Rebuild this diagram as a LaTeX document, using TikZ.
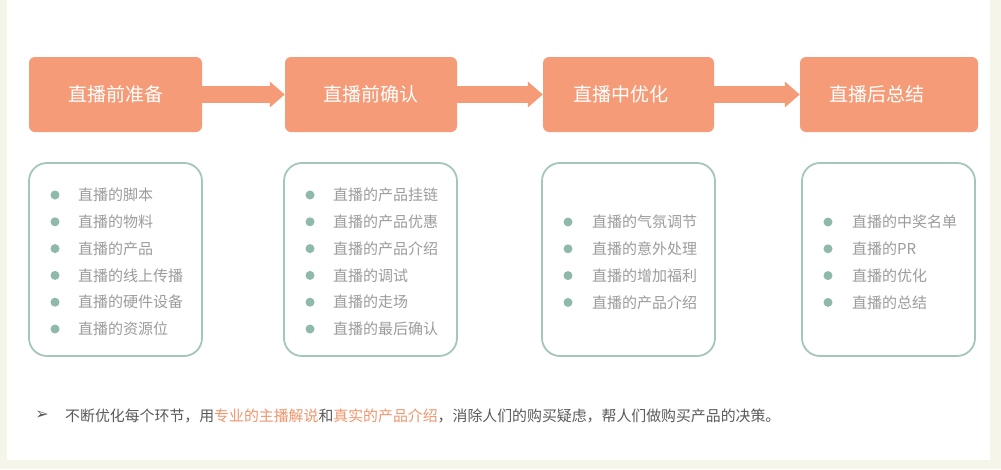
\documentclass[tikz,border=0pt]{standalone}
\usepackage{fontspec}
\setmainfont{Noto Sans CJK SC}
\newfontfamily\symfont{DejaVu Sans}
\usetikzlibrary{arrows.meta}
\definecolor{cream}{HTML}{F6F5EA}
\definecolor{orangebox}{HTML}{F59B78}
\definecolor{greenline}{HTML}{A5C6BA}
\definecolor{bulletc}{HTML}{8FBAA9}
\definecolor{itemtext}{HTML}{9C9C9C}
\definecolor{foottext}{HTML}{5A5A5A}
\definecolor{highlight}{HTML}{F0956C}
\tikzset{
  stagebox/.style={fill=orangebox, rounded corners=6pt, minimum height=75pt, inner sep=0pt,
    text=white, font=\fontsize{19pt}{22pt}\selectfont},
  listbox/.style={draw=greenline, line width=1.8pt, rounded corners=18pt, minimum height=193pt, inner sep=0pt},
  flowarrow/.style={draw=orangebox, line width=17pt, -{Triangle[length=15pt,width=25pt]}},
  bulletdot/.style={circle, fill=bulletc, minimum size=9pt, inner sep=0pt},
  itemlabel/.style={anchor=west, inner sep=0pt, text=itemtext, font=\fontsize{15pt}{18pt}\selectfont},
}
\begin{document}
\begin{tikzpicture}[x=1pt,y=-1pt]
\useasboundingbox (0,0) rectangle (1001,469);
\fill[cream] (0,0) rectangle (1001,469);
\fill[white] (7,0) rectangle (990,460);
% stage boxes
\node[stagebox, minimum width=173pt] (s1) at (115.5,94.5) {直播前准备};
\node[stagebox, minimum width=172pt] (s2) at (371,94.5) {直播前确认};
\node[stagebox, minimum width=171pt] (s3) at (628.5,94.5) {\hspace*{-16pt}直播中优化};
\node[stagebox, minimum width=178pt] (s4) at (889,94.5) {\hspace*{-24pt}直播后总结};
% arrows
\draw[flowarrow] (s1.east) -- (s2.west);
\draw[flowarrow] (s2.east) -- (s3.west);
\draw[flowarrow] (s3.east) -- (s4.west);
% list boxes
\node[listbox, minimum width=173pt] (l1) at (115.5,259.5) {};
\node[listbox, minimum width=173pt] (l2) at (370.5,259.5) {};
\node[listbox, minimum width=173pt] (l3) at (628.5,259.5) {};
\node[listbox, minimum width=173pt] (l4) at (888.5,259.5) {};
% list 1
\foreach \t [count=\i] in {直播的脚本,直播的物料,直播的产品,直播的线上传播,直播的硬件设备,直播的资源位}{
  \node[bulletdot] (a\i) at (55,195+26.8*\i-26.8) {};
  \node[itemlabel] (at\i) at (78,195+26.8*\i-26.8) {\t};
}
% list 2
\foreach \t [count=\i] in {直播的产品挂链,直播的产品优惠,直播的产品介绍,直播的调试,直播的走场,直播的最后确认}{
  \node[bulletdot] (b\i) at (310,195+26.8*\i-26.8) {};
  \node[itemlabel] (bt\i) at (333,195+26.8*\i-26.8) {\t};
}
% list 3
\foreach \t [count=\i] in {直播的气氛调节,直播的意外处理,直播的增加福利,直播的产品介绍}{
  \node[bulletdot] (c\i) at (568,222+26.8*\i-26.8) {};
  \node[itemlabel] (ct\i) at (592,222+26.8*\i-26.8) {\t};
}
% list 4
\foreach \t [count=\i] in {直播的中奖名单,直播的PR,直播的优化,直播的总结}{
  \node[bulletdot] (d\i) at (828,222+26.8*\i-26.8) {};
  \node[itemlabel] (dt\i) at (852,222+26.8*\i-26.8) {\t};
}
% footer
\node[anchor=center, inner sep=0pt, text=foottext, font=\symfont\fontsize{16pt}{18pt}\selectfont] (fm) at (42,415) {➢};
\node[anchor=west, inner sep=0pt, text=foottext, font=\fontsize{14.9pt}{17pt}\selectfont] (ft) at (65,415.5)
  {不断优化每个环节，用\textcolor{highlight}{专业的主播解说}和\textcolor{highlight}{真实的产品介绍}，消除人们的购买疑虑，帮人们做购买产品的决策。};
\end{tikzpicture}
\end{document}
